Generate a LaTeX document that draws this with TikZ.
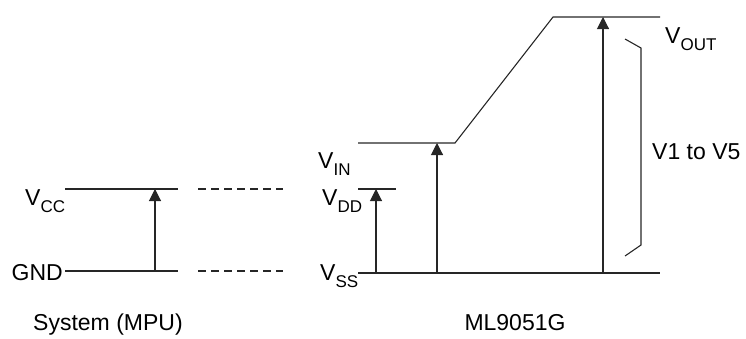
\documentclass[tikz,border=0pt]{standalone}
\usepackage{fontspec}
\setmainfont{Liberation Sans}
\usetikzlibrary{arrows.meta}
\newcommand\vsub[2]{#1\raisebox{-7pt}{\fontsize{17}{17}\selectfont #2}}
\begin{document}
\begin{tikzpicture}[x=1pt,y=-1pt,
  wire/.style={line width=1.1pt, black!85},
  volt/.style={wire, -{Triangle[length=12pt,width=12pt]}},
  dash line/.style={wire, dash pattern=on 8pt off 5pt},
  lbl/.style={inner sep=0pt, font=\fontsize{23}{26}\selectfont}]
\useasboundingbox (0,0) rectangle (746,338);
% left system
\coordinate (cc1) at (65,189); \coordinate (cc2) at (178,189);
\coordinate (g1) at (65,271); \coordinate (g2) at (178,271);
\coordinate (ccd1) at (198,189); \coordinate (ccd2) at (283,189);
\coordinate (gd1) at (198,271); \coordinate (gd2) at (283,271);
\coordinate (a1b) at (155,271); \coordinate (a1t) at (155,189);
\draw[wire] (cc1) -- (cc2);
\draw[wire] (g1) -- (g2);
\draw[dash line] (ccd1) -- (ccd2);
\draw[dash line] (gd1) -- (gd2);
\draw[volt] (a1b) -- (a1t);
\node[lbl, anchor=base west] (vcc) at (25,205) {\vsub{V}{CC}};
\node[lbl, anchor=base east] (gnd) at (63,280) {GND};
% ML9051G
\coordinate (in1) at (358,143); \coordinate (in2) at (455,143);
\coordinate (out1) at (553,17); \coordinate (out2) at (660,17);
\coordinate (dd1) at (358,189); \coordinate (dd2) at (396,189);
\coordinate (ss1) at (358,273); \coordinate (ss2) at (660,273);
\draw[wire] (in1) -- (in2) -- (out1) -- (out2);
\draw[wire] (dd1) -- (dd2);
\draw[wire] (ss1) -- (ss2);
\coordinate (a2b) at (376,273); \coordinate (a2t) at (376,189);
\coordinate (a3b) at (437,273); \coordinate (a3t) at (437,143);
\coordinate (a4b) at (603,273); \coordinate (a4t) at (603,17);
\draw[volt] (a2b) -- (a2t);
\draw[volt] (a3b) -- (a3t);
\draw[volt] (a4b) -- (a4t);
\coordinate (b1) at (625,39); \coordinate (b2) at (641,48);
\coordinate (b3) at (641,245); \coordinate (b4) at (625,256);
\draw[wire] (b1) -- (b2) -- (b3) -- (b4);
\node[lbl, anchor=base west] (vin) at (318,168) {\vsub{V}{IN}};
\node[lbl, anchor=base west] (vdd) at (322,205) {\vsub{V}{DD}};
\node[lbl, anchor=base west] (vss) at (320,280) {\vsub{V}{SS}};
\node[lbl, anchor=base west] (vout) at (665,43) {\vsub{V}{OUT}};
\node[lbl, anchor=base west] (range) at (652,159) {V1 to V5};
\node[lbl, anchor=base west] (sys) at (33,330) {System (MPU)};
\node[lbl, anchor=base] (chip) at (515,330) {ML9051G};
\end{tikzpicture}
\end{document}
